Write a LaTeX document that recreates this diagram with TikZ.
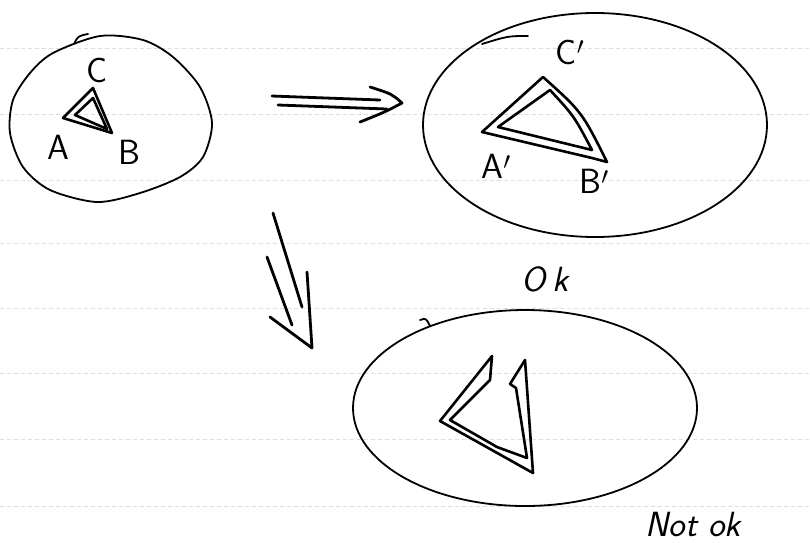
\documentclass[tikz,border=0pt]{standalone}
\usetikzlibrary{calc}
\begin{document}
\begin{tikzpicture}[x=1pt, y=-1pt, line cap=round, line join=round,
  rim/.style={line width=1.8pt},
  tri/.style={line width=2.6pt},
  shaft/.style={line width=2.8pt},
  lab/.style={font=\fontsize{35}{37}\selectfont\sffamily, inner sep=0pt},
  rule/.style={gray!25, line width=0.8pt, dash pattern=on 4pt off 3pt}]
  \useasboundingbox (0,0) rectangle (810,542);
  % lines of the paper
  \foreach \y in {48,114,180,243,308,373,439,506}
    \draw[rule] (0,\y) -- (810,\y);

  % left blob, small triangle ABC
  \draw[rim] plot[smooth cycle] coordinates {(100,36) (143,40) (173,57) (200,87)
    (212,123) (203,157) (180,177) (140,193) (97,202) (50,190) (23,167)
    (10,133) (13,100) (30,73) (53,53)};
  \draw[rim] (74,44) .. controls (78,36) .. (88,34);
  \coordinate (A) at (63,118);
  \coordinate (B) at (112,133);
  \coordinate (C) at (93,88);
  \draw[tri] (A) -- (C) -- (B) -- cycle;
  \draw[tri] (75,115) -- (93,98) -- (107,129) -- cycle;
  \node[lab] (lA) at (58,147) {A};
  \node[lab] (lB) at (129,152) {B};
  \node[lab] (lC) at (97,70) {C};

  % right blob, big triangle A'B'C'
  \draw[rim] (595,125) ellipse [x radius=172, y radius=112];
  \draw[rim] (528,36) .. controls (508,36) .. (482,44);
  \coordinate (A1) at (482,132);
  \coordinate (B1) at (607,162);
  \coordinate (C1) at (543,77);
  \draw[tri] (A1) -- (C1) .. controls (582,112) .. (B1) -- (592,158) -- cycle;
  \draw[tri] (498,127) -- (550,90) .. controls (574,116) .. (592,150) -- cycle;
  \node[lab] (lA1) at (496,166) {A$'$};
  \node[lab] (lB1) at (594,181) {B$'$};
  \node[lab] (lC1) at (570,52) {C$'$};
  \node[lab] (ok) at (545,279) {\itshape O\,k};

  % => to the right
  \coordinate (r1) at (272,96);
  \coordinate (r2) at (380,100);
  \coordinate (r3) at (278,105);
  \coordinate (r4) at (387,109);
  \coordinate (rtip) at (402,103);
  \draw[shaft] (r1) -- (r2);
  \draw[shaft] (r3) -- (r4);
  \draw[shaft] (370,87) .. controls (392,94) .. (rtip) .. controls (385,112) .. (360,122);

  % => downwards
  \coordinate (d1) at (273,213);
  \coordinate (d2) at (302,307);
  \coordinate (d3) at (267,257);
  \coordinate (d4) at (292,325);
  \coordinate (dtip) at (312,348);
  \draw[shaft] (d1) -- (d2);
  \draw[shaft] (d3) -- (d4);
  \draw[shaft] (270,317) -- (dtip) -- (307,272);

  % lower blob, broken triangle
  \draw[rim] (525,408) ellipse [x radius=172, y radius=98];
  \draw[rim] (420,320) .. controls (426,318) .. (430,326);
  \draw[tri] (492,356) -- (440,421) -- (533,473) -- (525,360) -- (510,384)
    -- (516,388) -- (527,458) -- (497,447) -- (450,420) -- (490,380) -- cycle;
  \node[lab] (notok) at (693,524) {\itshape Not ok};
\end{tikzpicture}
\end{document}
